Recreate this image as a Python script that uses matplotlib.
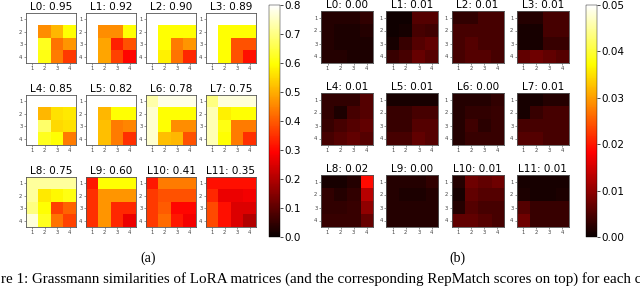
import numpy as np
import matplotlib
matplotlib.use('Agg')
import matplotlib.pyplot as plt
from matplotlib.cm import ScalarMappable
from matplotlib.colors import Normalize

# layer scores shown in the titles
layers = [f'L{i}' for i in range(12)]
scores_a = [0.95, 0.92, 0.90, 0.89, 0.85, 0.82, 0.78, 0.75, 0.75, 0.60, 0.41, 0.35]
scores_b = [0.00, 0.01, 0.01, 0.01, 0.01, 0.01, 0.00, 0.01, 0.02, 0.00, 0.01, 0.01]
ranks = [1, 2, 3, 4]

# (a) Grassmann similarities, 4x4 per layer (row = rank i, col = rank j)
sim_a = [
    [[1.0, 1.0, 1.0, 1.0], [1.0, 0.46, 0.51, 0.60], [1.0, 0.62, 0.43, 0.47], [1.0, 0.61, 0.44, 0.36]],
    [[1.0, 1.0, 1.0, 1.0], [1.0, 0.46, 0.46, 0.60], [1.0, 0.49, 0.33, 0.39], [1.0, 0.49, 0.37, 0.30]],
    [[1.0, 1.0, 1.0, 1.0], [1.0, 0.60, 0.60, 0.60], [1.0, 0.60, 0.44, 0.47], [1.0, 0.58, 0.43, 0.34]],
    [[1.0, 1.0, 1.0, 1.0], [1.0, 0.60, 0.60, 0.60], [1.0, 0.60, 0.39, 0.39], [1.0, 0.60, 0.39, 0.31]],
    [[1.0, 1.0, 1.0, 1.0], [1.0, 0.51, 0.56, 0.57], [1.0, 0.68, 0.55, 0.56], [1.0, 0.62, 0.60, 0.44]],
    [[1.0, 1.0, 1.0, 1.0], [1.0, 0.51, 0.60, 0.60], [1.0, 0.52, 0.44, 0.45], [1.0, 0.52, 0.44, 0.35]],
    [[0.73, 0.78, 0.78, 0.78], [0.76, 0.60, 0.60, 0.60], [0.76, 0.60, 0.46, 0.46], [0.76, 0.52, 0.51, 0.39]],
    [[0.70, 0.77, 0.77, 0.77], [0.74, 0.58, 0.60, 0.60], [0.74, 0.61, 0.44, 0.44], [0.74, 0.60, 0.44, 0.35]],
    [[0.72, 0.72, 0.72, 0.72], [0.72, 0.57, 0.59, 0.61], [0.70, 0.60, 0.37, 0.41], [0.77, 0.62, 0.43, 0.37]],
    [[0.32, 0.60, 0.60, 0.60], [0.35, 0.47, 0.47, 0.47], [0.35, 0.47, 0.34, 0.34], [0.35, 0.47, 0.34, 0.27]],
    [[0.32, 0.44, 0.44, 0.44], [0.36, 0.39, 0.39, 0.39], [0.36, 0.40, 0.30, 0.30], [0.36, 0.42, 0.32, 0.28]],
    [[0.31, 0.31, 0.31, 0.31], [0.34, 0.27, 0.27, 0.28], [0.38, 0.31, 0.25, 0.25], [0.38, 0.31, 0.25, 0.20]],
]

# (b) same layout, much smaller values
sim_b = [
    [[0.002, 0.002, 0.002, 0.003], [0.002, 0.0015, 0.0015, 0.002], [0.002, 0.0015, 0.0015, 0.0015], [0.002, 0.002, 0.0015, 0.0015]],
    [[0.0005, 0.0005, 0.0055, 0.0055], [0.0005, 0.0008, 0.0045, 0.004], [0.001, 0.0035, 0.0055, 0.0065], [0.0035, 0.0045, 0.007, 0.0055]],
    [[0.003, 0.003, 0.0045, 0.0045], [0.0045, 0.0045, 0.0045, 0.0045], [0.0045, 0.0055, 0.0045, 0.0045], [0.0045, 0.0055, 0.0055, 0.0045]],
    [[0.002, 0.002, 0.0045, 0.0045], [0.001, 0.001, 0.0045, 0.0045], [0.001, 0.001, 0.0035, 0.0035], [0.0065, 0.0075, 0.0065, 0.0055]],
    [[0.003, 0.003, 0.003, 0.0055], [0.003, 0.0015, 0.0045, 0.0055], [0.0035, 0.0045, 0.0055, 0.0065], [0.0045, 0.0055, 0.0065, 0.0055]],
    [[0.001, 0.001, 0.001, 0.001], [0.0035, 0.0035, 0.0045, 0.0045], [0.0035, 0.0035, 0.0055, 0.0055], [0.0045, 0.0045, 0.0065, 0.0055]],
    [[0.002, 0.002, 0.002, 0.003], [0.002, 0.003, 0.003, 0.0035], [0.002, 0.004, 0.0025, 0.0035], [0.002, 0.0035, 0.0035, 0.0035]],
    [[0.001, 0.001, 0.002, 0.002], [0.001, 0.0035, 0.0045, 0.0045], [0.0045, 0.0045, 0.0045, 0.0045], [0.0055, 0.0055, 0.0045, 0.0045]],
    [[0.001, 0.001, 0.002, 0.019], [0.003, 0.002, 0.003, 0.013], [0.003, 0.003, 0.0035, 0.010], [0.0035, 0.0035, 0.0035, 0.007]],
    [[0.002, 0.002, 0.002, 0.003], [0.002, 0.0015, 0.0015, 0.002], [0.002, 0.002, 0.002, 0.002], [0.002, 0.002, 0.002, 0.002]],
    [[0.002, 0.0075, 0.0065, 0.0075], [0.001, 0.0065, 0.0055, 0.0055], [0.002, 0.0055, 0.0045, 0.0045], [0.0065, 0.0065, 0.0055, 0.0045]],
    [[0.001, 0.001, 0.001, 0.001], [0.0015, 0.001, 0.001, 0.0015], [0.0055, 0.0035, 0.0035, 0.0035], [0.0075, 0.0035, 0.0035, 0.0035]],
]

caption_a = '(a)'
caption_b = '(b)'
# the visible part of the figure caption (the source picture is cropped)
fig_caption = ('re 1: Grassmann similarities of LoRA matrices (and the corresponding '
               'RepMatch scores on top) for each c')

W, H = 640, 286
fig = plt.figure(figsize=(W / 100, H / 100), dpi=100)


def px_axes(x, y, w, h):
    # pixel box (top-left origin) -> figure axes
    return fig.add_axes([x / W, 1 - (y + h) / H, w / W, h / H])


def draw_panel(data, scores, vmax, x0, dx, y0, dy, size):
    for k, (mat, s) in enumerate(zip(data, scores)):
        r, c = divmod(k, 4)
        ax = px_axes(x0 + c * dx, y0 + r * dy, size, size)
        ax.imshow(np.array(mat), cmap='hot', vmin=0, vmax=vmax,
                  extent=(0.5, 4.5, 4.5, 0.5), interpolation='nearest')
        ax.set_xticks(ranks)
        ax.set_yticks(ranks)
        ax.tick_params(labelsize=3.8, length=1.5, width=0.4, pad=1, colors='#444444')
        for sp in ax.spines.values():
            sp.set_color('#555555')
            sp.set_linewidth(0.6)
        ax.set_title(f'{layers[k]}: {s:.2f}', fontsize=7.5, pad=2)


def draw_cbar(x, vmax, ticks):
    cax = px_axes(x, 5, 11, 232)
    cb = fig.colorbar(ScalarMappable(Normalize(0, vmax), cmap='hot'), cax=cax)
    cb.set_ticks(ticks)
    cb.ax.tick_params(labelsize=7.5, length=2.5, width=0.5, pad=1)
    cb.outline.set_linewidth(0.3)


draw_panel(sim_a, scores_a, 0.8, 26, 60, 13, 82, 50)
draw_panel(sim_b, scores_b, 0.05, 321, 65.3, 11, 82, 52)
draw_cbar(269, 0.8, np.arange(0, 0.81, 0.1))
draw_cbar(586, 0.05, np.arange(0, 0.051, 0.01))

serif = 'Liberation Serif'
fig.text(148 / W, 1 - 258 / H, caption_a, ha='center', va='center', fontsize=10, family=serif)
fig.text(457 / W, 1 - 258 / H, caption_b, ha='center', va='center', fontsize=10, family=serif)
fig.text(1 / W, 1 - 279 / H, fig_caption, ha='left', va='center', fontsize=10.8, family=serif)

fig.savefig('out.png', dpi=100)
